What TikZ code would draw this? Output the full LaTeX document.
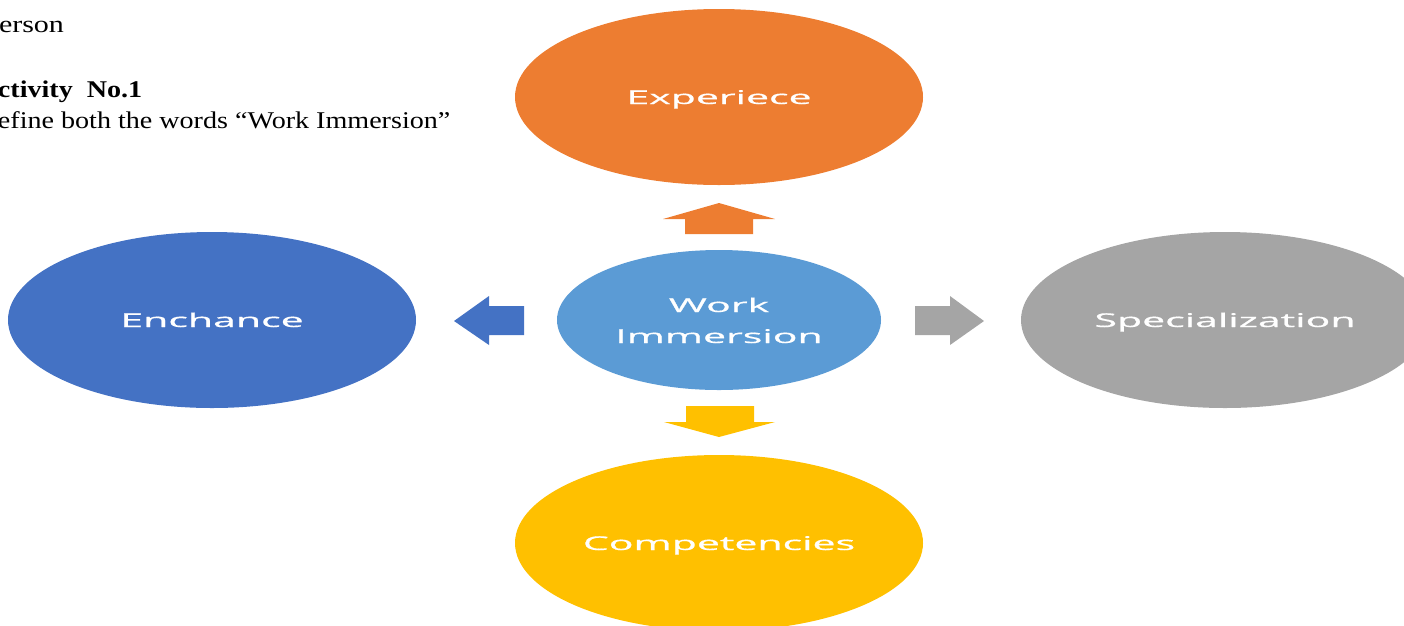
\documentclass[tikz,border=0pt]{standalone}
\usepackage{graphicx}
\usepackage{fontspec}
\setmainfont{Liberation Serif}
\newfontfamily\bubfont[FakeBold=0.6]{Open Sans}
\usetikzlibrary{shapes.geometric}
\definecolor{cOrange}{HTML}{ED7D31}
\definecolor{cBlue}{HTML}{4472C4}
\definecolor{cLight}{HTML}{5B9BD5}
\definecolor{cGray}{HTML}{A5A5A5}
\definecolor{cGold}{HTML}{FFC000}
\newcommand{\widetxt}[1]{\scalebox{2.16}[1]{#1}}
\newcommand{\doctxt}[1]{\scalebox{1.17}[1]{#1}}
\tikzset{
  bub/.style={ellipse, inner sep=0pt, outer sep=0pt, minimum width=408pt, minimum height=176pt,
    text=white, font=\bubfont\fontsize{19}{31}\selectfont, text height=14pt, text depth=0pt},
  doc/.style={anchor=base west, inner sep=0pt, outer sep=0pt, text=black, font=\fontsize{24}{28}\selectfont},
}
\begin{document}
\begin{tikzpicture}[x=1pt,y=-1pt]
\useasboundingbox (0,0) rectangle (1404,625);
\clip (0,0) rectangle (1404,625);
% document text
\node[doc] (t1) at (-1,32) {\scalebox{1.25}[1]{erson}};
\node[doc, font=\fontsize{24}{28}\selectfont\bfseries] (t2) at (-2,97) {\doctxt{ctivity\ \ No.1}};
\node[doc] (t3) at (-2,128) {\doctxt{efine both the words “Work Immersion”}};
% bubbles
\node[bub, fill=cOrange] (exp) at (719,97) {\widetxt{Experiece}};
\node[bub, fill=cBlue] (enh) at (212,320) {\widetxt{Enchance}};
\node[bub, fill=cGray] (spe) at (1225,320) {\widetxt{Specialization}};
\node[bub, fill=cGold] (com) at (719,543) {\widetxt{Competencies}};
\node[bub, fill=cLight, minimum width=324pt, minimum height=140pt, text height=0pt, text depth=16pt] (wi) at (719,320)
  {\widetxt{\begin{tabular}[t]{@{}c@{}}Work\\Immersion\end{tabular}}};
% block arrows
\fill[cOrange] (685,234) -- (685,219) -- (663,219) -- (719,203) -- (775,219) -- (753,219) -- (753,234) -- cycle;
\fill[cGold] (686,406) -- (754,406) -- (754,422) -- (775,422) -- (719,437) -- (664,422) -- (686,422) -- cycle;
\fill[cBlue] (524,306) -- (489,306) -- (489,296) -- (454,321) -- (489,345) -- (489,335) -- (524,335) -- cycle;
\fill[cGray] (915,306) -- (950,306) -- (950,296) -- (984,321) -- (950,345) -- (950,335) -- (915,335) -- cycle;
\end{tikzpicture}
\end{document}
